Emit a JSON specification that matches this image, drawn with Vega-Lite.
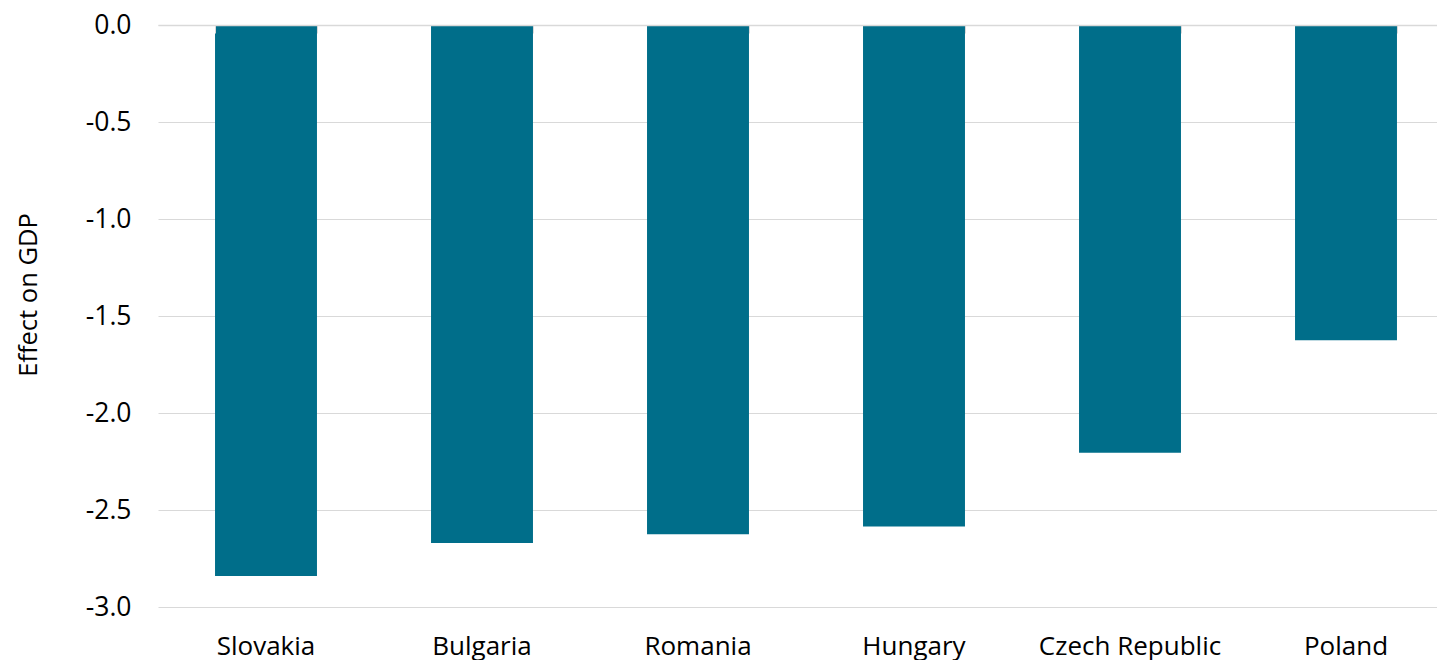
{
  "$schema": "https://vega.github.io/schema/vega-lite/v6.json",
  "width": 1296,
  "height": 582,
  "autosize": {"type": "none"},
  "padding": {"left": 158, "top": 25, "right": 0, "bottom": 53},
  "background": "white",
  "config": {"view": {"stroke": null}, "font": "Open Sans"},
  "data": {
    "values": [
      {"country": "Slovakia", "effect": -2.84},
      {"country": "Bulgaria", "effect": -2.67},
      {"country": "Romania", "effect": -2.625},
      {"country": "Hungary", "effect": -2.585},
      {"country": "Czech Republic", "effect": -2.205},
      {"country": "Poland", "effect": -1.625}
    ]
  },
  "encoding": {
    "y": {
      "field": "effect",
      "type": "quantitative",
      "scale": {"domain": [-3, 0], "nice": false},
      "axis": {
        "values": [-3, -2.5, -2, -1.5, -1, -0.5, 0],
        "labelExpr": "datum.value == 0 ? '0.0' : '-' + format(-datum.value, '.1f')",
        "domain": false,
        "ticks": false,
        "grid": true,
        "gridColor": "#d9d9d9",
        "gridWidth": 1,
        "labelFontSize": 26.5,
        "labelColor": "#000000",
        "labelPadding": 27,
        "title": "Effect on GDP",
        "titleFontSize": 25.5,
        "titleFontWeight": "normal",
        "titleColor": "#000000",
        "titleX": -130,
        "titleY": 269.5,
        "titleAngle": -90,
        "titleBaseline": "middle",
        "titleAlign": "center"
      }
    }
  },
  "layer": [
    {
      "mark": {"type": "bar", "color": "#006E8A"},
      "encoding": {
        "x": {
          "field": "country",
          "type": "nominal",
          "sort": null,
          "scale": {"paddingInner": 0.528, "paddingOuter": 0.264},
          "axis": {
            "orient": "bottom",
            "domain": false,
            "ticks": false,
            "grid": false,
            "labelAngle": 0,
            "labelFontSize": 26,
            "labelColor": "#000000",
            "labelPadding": 26,
            "labelLimit": 0,
            "title": null
          }
        }
      }
    },
    {
      "mark": {"type": "bar", "opacity": 0},
      "encoding": {
        "x": {
          "field": "country",
          "type": "nominal",
          "sort": null,
          "axis": {
            "orient": "top",
            "labels": false,
            "domain": true,
            "domainColor": "#d9d9d9",
            "domainWidth": 1.5,
            "ticks": true,
            "tickBand": "extent",
            "tickSize": -8,
            "tickColor": "#d9d9d9",
            "title": null,
            "grid": false,
            "zindex": 1
          }
        }
      }
    }
  ],
  "resolve": {"axis": {"x": "independent"}}
}
